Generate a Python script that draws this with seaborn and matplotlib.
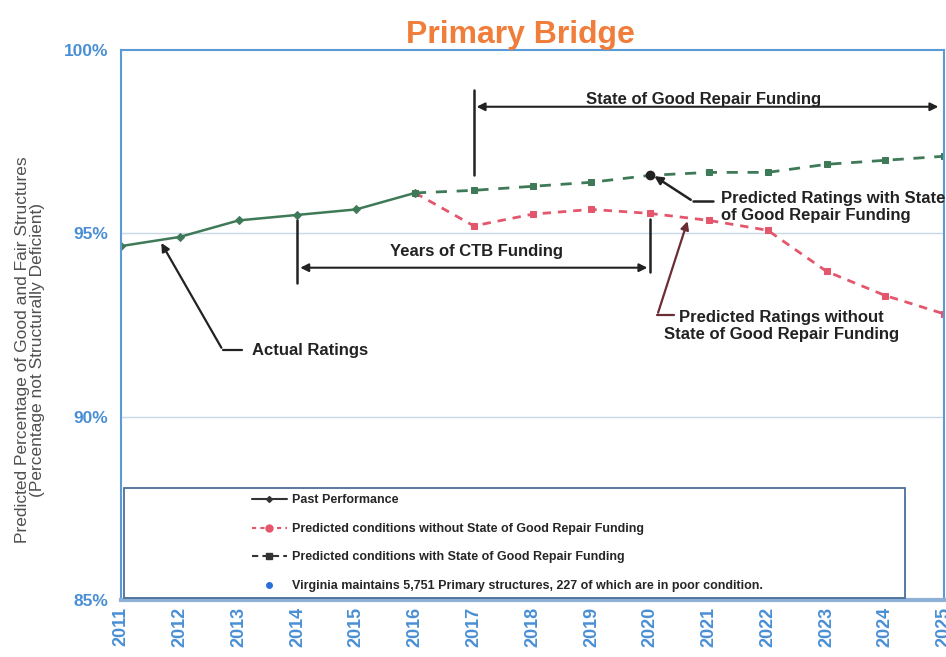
import pandas as pd
import seaborn as sns
import matplotlib.pyplot as plt
from matplotlib.lines import Line2D
from matplotlib.patches import Rectangle

# Values (percent of good and fair structures)
past_years = [2011, 2012, 2013, 2014, 2015, 2016]
past_values = [94.65, 94.9, 95.35, 95.5, 95.65, 96.1]

pred_years = [2016, 2017, 2018, 2019, 2020, 2021, 2022, 2023, 2024, 2025]
without_sgr = [96.1, 95.2, 95.52, 95.65, 95.54, 95.35, 95.08, 93.96, 93.3, 92.8]
with_sgr = [96.1, 96.17, 96.28, 96.39, 96.58, 96.66, 96.66, 96.88, 96.99, 97.1]

year_ticks = list(range(2011, 2026))
pct_ticks = [85, 90, 95, 100]

past_df = pd.DataFrame({'Year': past_years, 'Pct': past_values})
pred_df = pd.DataFrame({'Year': pred_years * 2,
                        'Pct': without_sgr + with_sgr,
                        'Scenario': ['without'] * len(pred_years) + ['with'] * len(pred_years)})

sns.set_style('white')
plt.rcParams['font.family'] = ['Liberation Sans', 'DejaVu Sans']

green = '#3f7a58'
red = '#e4566c'
blue_txt = '#4a8fd4'
spine_blue = '#5b9bd5'
ink = '#222222'

fig = plt.figure(figsize=(9.46, 6.57), dpi=100)
ax = fig.add_axes([0.128, 0.087, 0.870, 0.837])

sns.lineplot(data=past_df, x='Year', y='Pct', ax=ax, color=green, lw=1.8,
             marker='D', markersize=4, markeredgecolor=green)
sns.lineplot(data=pred_df[pred_df.Scenario == 'without'], x='Year', y='Pct', ax=ax,
             color=red, lw=2, linestyle=(0, (3, 2.5)), marker='s', markersize=5,
             markeredgecolor=red)
sns.lineplot(data=pred_df[pred_df.Scenario == 'with'], x='Year', y='Pct', ax=ax,
             color=green, lw=2, linestyle=(0, (4, 3.5)), marker='s', markersize=5,
             markeredgecolor=green)
ax.plot([2020], [96.58], marker='o', color=ink, markersize=6)

ax.set_xlim(2011, 2025)
ax.set_ylim(85, 100)
ax.set_xticks(year_ticks)
ax.set_xticklabels([str(y) for y in year_ticks], rotation=90, color=blue_txt,
                   fontsize=13, fontweight='bold')
ax.set_yticks(pct_ticks)
ax.set_yticklabels([f'{p}%' for p in pct_ticks], color=blue_txt, fontsize=12.5,
                   fontweight='bold')
ax.tick_params(axis='x', length=0, pad=5)
ax.tick_params(axis='y', length=0, pad=9)
for y in [90, 95]:
    ax.axhline(y, color='#c9d8e6', lw=1, zorder=0)
for side in ['left', 'top', 'right']:
    ax.spines[side].set_color(spine_blue)
    ax.spines[side].set_linewidth(1.5)
ax.spines['bottom'].set_color('#8fb0d6')
ax.spines['bottom'].set_linewidth(3)
ax.set_xlabel('')
ax.set_ylabel('Predicted Percentage of Good and Fair Structures\n(Percentage not Structurally Deficient)',
              fontsize=12.5, color='#505050', linespacing=1.05)
ax.yaxis.set_label_coords(-0.092, 0.455)

ax.set_title('Primary Bridge', color='#f07d3a', fontsize=23, fontweight='bold', pad=5, x=0.485)

# State of Good Repair funding bracket
ax.plot([2017, 2017], [96.6, 98.9], color=ink, lw=1.8)
ax.annotate('', xy=(2017, 98.45), xytext=(2024.95, 98.45),
            arrowprops=dict(arrowstyle='<|-|>', color=ink, lw=1.5, mutation_scale=12))
ax.text(2020.9, 98.45, 'State of Good Repair Funding', ha='center', va='bottom',
        fontsize=12, fontweight='bold', color=ink)

# Years of CTB funding bracket
ax.plot([2014, 2014], [93.65, 95.35], color=ink, lw=1.8)
ax.plot([2020, 2020], [93.95, 95.4], color=ink, lw=1.8)
ax.annotate('', xy=(2014, 94.06), xytext=(2020, 94.06),
            arrowprops=dict(arrowstyle='<|-|>', color=ink, lw=1.5, mutation_scale=12))
ax.text(2017.05, 94.5, 'Years of CTB Funding', ha='center', va='center',
        fontsize=12, fontweight='bold', color=ink)

# Callouts
ax.annotate('', xy=(2011.66, 94.8), xytext=(2012.73, 91.81),
            arrowprops=dict(arrowstyle='-|>', color=ink, lw=1.6, mutation_scale=12))
ax.plot([2012.73, 2013.06], [91.81, 91.81], color=ink, lw=1.6)
ax.text(2013.23, 91.81, 'Actual Ratings', ha='left', va='center', fontsize=12,
        fontweight='bold', color=ink)

ax.annotate('', xy=(2020.03, 96.6), xytext=(2020.73, 95.87),
            arrowprops=dict(arrowstyle='-|>', color=ink, lw=1.8, mutation_scale=12))
ax.plot([2020.73, 2021.07], [95.87, 95.87], color=ink, lw=1.8)
ax.text(2021.2, 95.72, 'Predicted Ratings with State\nof Good Repair Funding', ha='left',
        va='center', fontsize=12, fontweight='bold', color=ink, linespacing=1.2)

ax.annotate('', xy=(2020.65, 95.4), xytext=(2020.12, 92.76),
            arrowprops=dict(arrowstyle='-|>', color='#6b2d33', lw=1.6, mutation_scale=12))
ax.plot([2020.12, 2020.4], [92.76, 92.76], color='#6b2d33', lw=1.6)
ax.text(2022.24, 92.47, 'Predicted Ratings without\nState of Good Repair Funding', ha='center',
        va='center', fontsize=12, fontweight='bold', color=ink, linespacing=1.2)

# Legend box
ax.add_patch(Rectangle((0.003, 0.004), 0.95, 0.2, transform=ax.transAxes, fill=False,
                       edgecolor='#4a6f9a', lw=1.3, zorder=3))
handles = [
    Line2D([], [], color='#333333', lw=1.5, marker='D', markersize=3),
    Line2D([], [], color=red, lw=1.5, linestyle=(0, (2, 2)), marker='o', markersize=5),
    Line2D([], [], color='#333333', lw=1.5, linestyle=(0, (3, 2)), marker='s', markersize=4),
    Line2D([], [], color='#2a6fd6', lw=0, marker='o', markersize=4),
]
labels = ['Past Performance',
          'Predicted conditions without State of Good Repair Funding',
          'Predicted conditions with State of Good Repair Funding',
          'Virginia maintains 5,751 Primary structures, 227 of which are in poor condition.']
ax.legend(handles, labels, loc='lower left', bbox_to_anchor=(0.145, -0.006), frameon=False,
          handlelength=2.8, labelspacing=1.32, handletextpad=0.4,
          prop={'size': 9, 'weight': 'bold'})

fig.savefig('out.png', dpi=100)
